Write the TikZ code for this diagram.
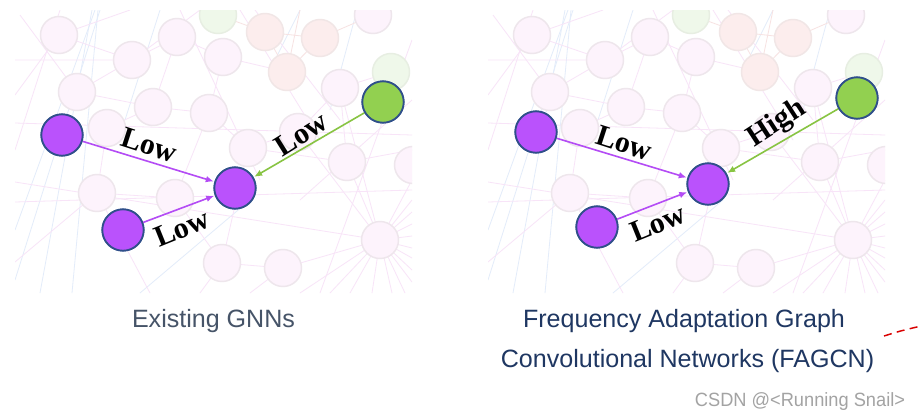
\documentclass[tikz,border=0pt]{standalone}
\usepackage{fontspec}
\setmainfont{Liberation Serif}
\newfontfamily\capfont{Liberation Sans}
\usetikzlibrary{arrows.meta}
\definecolor{pfill}{HTML}{BA52FC}
\definecolor{pline}{HTML}{B44CF5}
\definecolor{gfill}{HTML}{92D050}
\definecolor{gline}{HTML}{88C443}
\definecolor{nborder}{HTML}{2F4F8A}
\definecolor{fpink}{HTML}{FDF3FC}
\definecolor{fpinkb}{HTML}{EEE6EC}
\definecolor{fred}{HTML}{FCEDED}
\definecolor{fredb}{HTML}{F1E6E6}
\definecolor{fgreen}{HTML}{EFF8EA}
\definecolor{fgreenb}{HTML}{E7EEE2}
\definecolor{bgpink}{HTML}{F8E4F8}
\definecolor{bgblue}{HTML}{E3ECFA}
\definecolor{bgred}{HTML}{F7E2E2}
\definecolor{capA}{HTML}{465468}
\definecolor{capB}{HTML}{1F3762}
\definecolor{wmark}{HTML}{A3A3A3}
\tikzset{
  fadepink/.style={fill=fpink,draw=fpinkb,line width=1.1pt},
  fadered/.style={fill=fred,draw=fredb,line width=1.1pt},
  fadegreen/.style={fill=fgreen,draw=fgreenb,line width=1.1pt},
  bgp/.style={draw=bgpink,line width=0.6pt},
  bgb/.style={draw=bgblue,line width=0.6pt},
  bgr/.style={draw=bgred,line width=0.6pt},
  pnode/.style={circle,fill=pfill,draw=nborder,line width=1.3pt,minimum size=31pt,inner sep=0pt},
  gnode/.style={circle,fill=gfill,draw=nborder,line width=1.3pt,minimum size=31pt,inner sep=0pt},
  parrow/.style={draw=pline,line width=1.2pt,-{Latex[length=6pt,width=5pt]},shorten >=0.5pt},
  garrow/.style={draw=gline,line width=1.2pt,-{Latex[length=6pt,width=5pt]},shorten >=0.5pt},
  lbl/.style={font=\bfseries\fontsize{22.5}{25}\selectfont,inner sep=0pt,text=black},
  capl/.style={font=\capfont\fontsize{18.8}{22}\selectfont,anchor=base,inner sep=0pt},
}
\newcommand{\bggraphdraw}{%
  \begin{scope}
  \clip (15,10) rectangle (412,293);
  % blue lines
  \draw[bgb] (95,10) -- (15,230);
  \draw[bgb] (100,10) -- (15,280);
  \draw[bgb] (92,10) -- (40,293);
  \draw[bgb] (98,10) -- (72,293);
  \draw[bgb] (160,10) -- (125,120);
  \draw[bgb] (357,10) -- (330,110);
  \draw[bgb] (250,200) -- (140,293);
  \draw[bgb] (300,10) -- (275,60);
  % pink lines
  \draw[bgp] (15,182) -- (380,240) -- (412,248);
  \draw[bgp] (15,202) -- (412,190);
  \draw[bgp] (15,123) -- (412,135);
  \draw[bgp] (15,60) -- (132,60) -- (177,37) -- (223,57) -- (209,113);
  \draw[bgp] (59,35) -- (132,60);
  \draw[bgp] (20,15) -- (77,92) -- (153,107) -- (107,128);
  \draw[bgp] (153,107) -- (209,113) -- (248,148) -- (298,132) -- (340,88) -- (391,72);
  \draw[bgp] (347,162) -- (380,240);
  \draw[bgp] (222,263) -- (283,268) -- (380,240);
  \draw[bgp] (175,198) -- (97,193) -- (15,262);
  \draw[bgp] (97,193) -- (150,293);
  \draw[bgp] (175,198) -- (222,263);
  \draw[bgp] (248,148) -- (347,162);
  \draw[bgp] (132,60) -- (77,92);
  \draw[bgp] (223,57) -- (287,72);
  \draw[bgp] (177,37) -- (153,107);
  \draw[bgp] (59,35) -- (15,95);
  \draw[bgp] (107,128) -- (97,193);
  \draw[bgp] (209,113) -- (175,198);
  \draw[bgp] (340,88) -- (347,162) -- (412,150);
  \draw[bgp] (248,148) -- (222,263);
  \draw[bgp] (283,268) -- (250,293);
  \draw[bgp] (222,263) -- (200,293);
  \draw[bgp] (130,10) -- (59,35);
  \draw[bgp] (200,10) -- (132,60);
  \draw[bgp] (240,10) -- (320,140);
  \draw[bgp] (255,10) -- (340,120);
  \draw[bgp] (180,10) -- (260,180);
  \draw[bgp] (300,200) -- (412,100);
  \draw[bgp] (320,293) -- (412,40);
  \draw[bgp] (15,150) -- (60,10);
  \foreach \a/\b in {412/200,412/212,412/224,412/236,412/258,412/270,412/282,405/293,392/293,372/293,350/293,330/293,300/293}{
    \draw[bgp] (380,240) -- (\a,\b);
  }
  \draw[bgp] (380,240) -- (412,180);
  \draw[bgp] (380,240) -- (340,88);
  \draw[bgp] (380,240) -- (298,132);
  % reddish lines
  \draw[bgr] (218,15) -- (265,32) -- (320,38);
  \draw[bgr] (265,32) -- (287,72) -- (320,38);
  \draw[bgr] (287,72) -- (300,10);
  \draw[bgr] (320,38) -- (373,15);
  % faded circles
  \fill[fadegreen] (218,15) circle[radius=18.5];
  \fill[fadepink] (373,15) circle[radius=18.5];
  \fill[fadepink] (59,35) circle[radius=18.5];
  \fill[fadered] (265,32) circle[radius=18.5];
  \fill[fadered] (320,38) circle[radius=18.5];
  \fill[fadepink] (177,37) circle[radius=18.5];
  \fill[fadepink] (132,60) circle[radius=18.5];
  \fill[fadepink] (223,57) circle[radius=18.5];
  \fill[fadered] (287,72) circle[radius=18.5];
  \fill[fadegreen] (391,72) circle[radius=18.5];
  \fill[fadepink] (77,92) circle[radius=18.5];
  \fill[fadepink] (153,107) circle[radius=18.5];
  \fill[fadepink] (209,113) circle[radius=18.5];
  \fill[fadepink] (340,88) circle[radius=18.5];
  \fill[fadepink] (107,128) circle[radius=18.5];
  \fill[fadepink] (248,148) circle[radius=18.5];
  \fill[fadepink] (298,132) circle[radius=18.5];
  \fill[fadepink] (347,162) circle[radius=18.5];
  \fill[fadepink] (413,165) circle[radius=18.5];
  \fill[fadepink] (97,193) circle[radius=18.5];
  \fill[fadepink] (175,198) circle[radius=18.5];
  \fill[fadepink] (380,240) circle[radius=18.5];
  \fill[fadepink] (222,263) circle[radius=18.5];
  \fill[fadepink] (283,268) circle[radius=18.5];
  \end{scope}%
}
\begin{document}
\begin{tikzpicture}[x=0.75pt,y=-0.75pt]
\useasboundingbox (0,0) rectangle (921,419);
\fill[white] (0,0) rectangle (921,419);
% background graphs
\bggraphdraw
\begin{scope}[shift={(473,0)}]
\bggraphdraw
\end{scope}
% ---------- left panel ----------
\node[pnode] (lA) at (62,135) {};
\node[pnode] (lC) at (235,188) {};
\node[pnode] (lB) at (123,230) {};
\node[gnode] (lG) at (383,102) {};
\draw[parrow] (lA) -- (lC);
\draw[parrow] (lB) -- (lC);
\draw[garrow] (lG) -- (lC);
\node[pnode] at (lA) {};
\node[pnode] at (lB) {};
\node[pnode] at (lC) {};
\node[gnode] at (lG) {};
\node[lbl,rotate=-18] (lL1) at (149,145) {Low};
\node[lbl,rotate=22] (lL2) at (182,228) {Low};
\node[lbl,rotate=32] (lL3) at (301,134) {Low};
% ---------- right panel ----------
\node[pnode] (rA) at (536,132) {};
\node[pnode] (rC) at (708,184) {};
\node[pnode] (rB) at (597,227) {};
\node[gnode] (rG) at (857,98) {};
\draw[parrow] (rA) -- (rC);
\draw[parrow] (rB) -- (rC);
\draw[garrow] (rG) -- (rC);
\node[pnode] at (rA) {};
\node[pnode] at (rB) {};
\node[pnode] at (rC) {};
\node[gnode] at (rG) {};
\node[lbl,rotate=-18] (rL1) at (624,143) {Low};
\node[lbl,rotate=22] (rL2) at (658,223) {Low};
\node[lbl,rotate=33] (rL3) at (777,124) {High};
% ---------- captions ----------
\node[capl,text=capA] (cap1) at (213.5,327) {Existing GNNs};
\node[capl,text=capB] (cap2) at (684,327) {Frequency Adaptation Graph};
\node[capl,text=capB] (cap3) at (687.5,367) {Convolutional Networks (FAGCN)};
\node[font=\capfont\fontsize{14.4}{16}\selectfont,anchor=base,inner sep=0pt,text=wmark,xscale=0.95] (wm) at (800,406) {CSDN @<Running Snail>};
% red dashed fragment
\coordinate (rd1) at (884,336);
\coordinate (rd2) at (921,326);
\draw[red!85!black,line width=1.1pt,dash pattern=on 6pt off 4pt] (rd1) .. controls (900,331) .. (rd2);
\end{tikzpicture}
\end{document}
